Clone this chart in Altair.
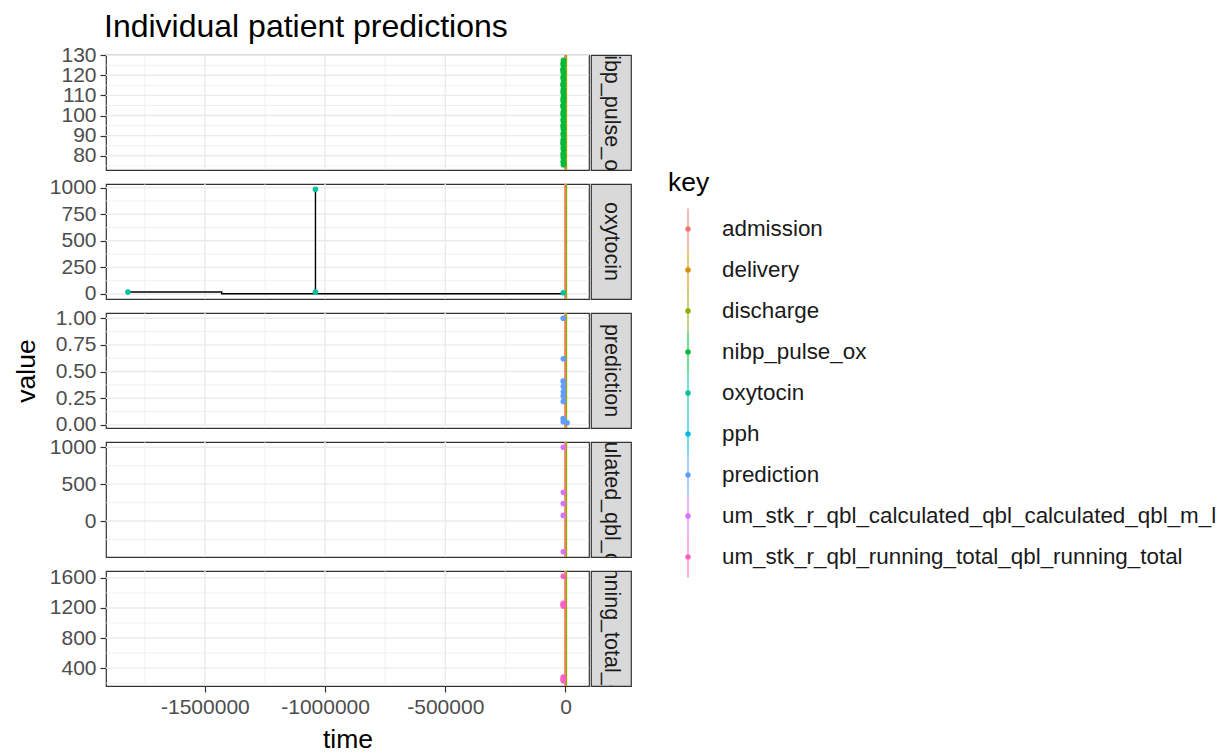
import altair as alt
import pandas as pd

FONT = "Liberation Sans"

# Series keys and their hue palette
keys = [
    "admission",
    "delivery",
    "discharge",
    "nibp_pulse_ox",
    "oxytocin",
    "pph",
    "prediction",
    "um_stk_r_qbl_calculated_qbl_calculated_qbl_m_l",
    "um_stk_r_qbl_running_total_qbl_running_total",
]
palette = ["#F8766D", "#D39200", "#93AA00", "#00BA38", "#00C19F",
           "#00B9E3", "#619CFF", "#DB72FB", "#FF61C3"]

# Event markers (vertical lines)
event_keys = ["delivery", "admission", "discharge"]
event_times = [-800, -2500, 4500]

# nibp_pulse_ox readings
nibp_time = [-8200, -9600, -8800, -10400, -9100, -8600, -9900, -8400, -9300, -10100,
             -8700, -9500, -9000, -8300, -9800, -8900, -10200, -9200, -8500, -9700,
             -8800, -9400, -8600, -10000, -9100, -8400, -9600, -8700, -9300, -8900,
             -10300, -9000, -8500, -9700, -8800, -9200, -9500, -8600]
nibp_value = [127.5, 126, 125, 123, 122, 121, 119, 118, 116, 115,
              113, 112, 111, 109, 108, 107, 105, 104, 102, 101,
              100, 98, 97, 95, 94, 93, 91, 90, 88, 87,
              86, 84, 83, 81, 80, 79, 77, 75.5]

# oxytocin doses and the dosing path
oxy_time = [-1820000, -1040000, -1040000, -9000]
oxy_value = [18, 985, 18, 12]
oxy_path_time = [-1820000, -1430000, -1430000, -1040000, -1040000, -1040000, -9000]
oxy_path_value = [18, 18, 2, 2, 985, 2, 2]

# model predictions
pred_time = [-9200, -8800, -9500, -9000, -8700, -9300, -8900, -9600, -9100, 6500]
pred_value = [1.0, 0.62, 0.41, 0.36, 0.31, 0.27, 0.22, 0.06, 0.03, 0.02]

# calculated QBL
calc_time = [-9000, -8800, -9200, -9100, -8900]
calc_value = [1000, 389, 237, 76, -416]

# running total QBL
total_time = [-9100, -8900, -9300, -8700, -9000, -9200, -8800, -9400, -9000]
total_value = [1622, 1262, 1248, 1236, 1225, 282, 262, 248, 232]

# axis breaks
x_major = [-1500000, -1000000, -500000, 0]
x_minor = [-1750000, -1250000, -750000, -250000]

panels = [
    dict(key="nibp_pulse_ox", time=nibp_time, value=nibp_value,
         major=[80, 90, 100, 110, 120, 130], minor=[75, 85, 95, 105, 115, 125], fmt="d"),
    dict(key="oxytocin", time=oxy_time, value=oxy_value,
         major=[0, 250, 500, 750, 1000], minor=[125, 375, 625, 875], fmt="d"),
    dict(key="prediction", time=pred_time, value=pred_value,
         major=[0, 0.25, 0.5, 0.75, 1.0], minor=[0.125, 0.375, 0.625, 0.875], fmt=".2f"),
    dict(key="um_stk_r_qbl_calculated_qbl_calculated_qbl_m_l", time=calc_time, value=calc_value,
         major=[0, 500, 1000], minor=[-250, 250, 750], fmt="d"),
    dict(key="um_stk_r_qbl_running_total_qbl_running_total", time=total_time, value=total_value,
         major=[400, 800, 1200, 1600], minor=[200, 600, 1000, 1400], fmt="d"),
]


def expanded(lo, hi, mult=0.05):
    pad = (hi - lo) * mult
    return [lo - pad, hi + pad]


all_times = (nibp_time + oxy_time + oxy_path_time + pred_time + calc_time
             + total_time + event_times)
x_domain = expanded(min(all_times), max(all_times))

PANEL_W, PANEL_H = 483, 115
STRIP_W = 40
GRID = "#EBEBEB"
TICK_FS = 21
LEGEND_FS = 22.4
STRIP_FS = 21.5
AXIS_TITLE_FS = 26.5

color_enc = alt.Color("key:N", scale=alt.Scale(domain=keys, range=palette), legend=None)

cells = []
n = len(panels)
for i, p in enumerate(panels):
    vals = list(p["value"])
    if p["key"] == "oxytocin":
        vals += oxy_path_value
    ys = alt.Scale(domain=expanded(min(vals), max(vals)), nice=False, zero=False)
    xs = alt.Scale(domain=x_domain, nice=False, zero=False)

    y_axis_kw = dict(values=p["major"], grid=False, domain=False, format=p["fmt"],
                     tickColor="#333333", tickSize=6, tickWidth=1.2,
                     labelColor="#4D4D4D", labelFont=FONT, labelFontSize=TICK_FS,
                     labelPadding=4, labelOverlap=False, labelBound=False)
    if i == n // 2:
        y_axis_kw.update(title="value", titleFont=FONT, titleFontSize=AXIS_TITLE_FS,
                         titleFontWeight="normal", titleColor="black",
                         titleAngle=-90, titleX=-80, titleY=PANEL_H / 2,
                         titleAlign="center", titleBaseline="middle")
    else:
        y_axis_kw.update(title=None)
    y_axis = alt.Axis(**y_axis_kw)

    if i == n - 1:
        x_axis = alt.Axis(values=x_major, grid=False, domain=False,
                          labelExpr="datum.value + ''", labelOverlap=False,
                          tickColor="#333333", tickSize=6, tickWidth=1.2,
                          labelColor="#4D4D4D", labelFont=FONT, labelFontSize=TICK_FS,
                          labelPadding=4, title="time", titleFont=FONT,
                          titleFontSize=AXIS_TITLE_FS, titleFontWeight="normal",
                          titleColor="black", titleY=61,
                          titleBaseline="alphabetic")
    else:
        x_axis = None

    X = alt.X("time:Q", scale=xs, axis=x_axis)
    Y = alt.Y("value:Q", scale=ys, axis=y_axis)

    hgrid = pd.DataFrame({"value": p["major"] + p["minor"],
                          "w": [1.4] * len(p["major"]) + [0.7] * len(p["minor"])})
    vgrid = pd.DataFrame({"time": x_major + x_minor,
                          "w": [1.4] * len(x_major) + [0.7] * len(x_minor)})

    layers = [
        alt.Chart(hgrid).mark_rule(color=GRID).encode(
            y=Y, strokeWidth=alt.StrokeWidth("w:Q", scale=None)),
        alt.Chart(vgrid).mark_rule(color=GRID).encode(
            x=X, strokeWidth=alt.StrokeWidth("w:Q", scale=None)),
        alt.Chart(pd.DataFrame({"time": event_times, "key": event_keys,
                                "seq": list(range(len(event_times)))}))
        .mark_rule(strokeWidth=1.2).encode(x=X, color=color_enc, order="seq:Q"),
    ]
    if p["key"] == "oxytocin":
        path = pd.DataFrame({"time": oxy_path_time, "value": oxy_path_value,
                             "seq": list(range(len(oxy_path_time)))})
        layers.append(alt.Chart(path).mark_line(color="black", strokeWidth=1.4)
                      .encode(x=X, y=Y, order="seq:Q"))
    pts = pd.DataFrame({"time": p["time"], "value": p["value"], "key": p["key"]})
    layers.append(alt.Chart(pts).mark_circle(size=32, opacity=1)
                  .encode(x=X, y=Y, color=color_enc))

    panel = alt.layer(*layers).properties(width=PANEL_W, height=PANEL_H)

    strip = (alt.Chart(pd.DataFrame({"label": [p["key"]]}))
             .mark_text(angle=90, clip=True, font=FONT, fontSize=STRIP_FS, color="#1A1A1A",
                        align="center", baseline="middle")
             .encode(text="label:N", x=alt.value(STRIP_W / 2), y=alt.value(PANEL_H / 2))
             .properties(width=STRIP_W, height=PANEL_H,
                         view=alt.ViewBackground(fill="#D9D9D9", stroke="#333333",
                                                 strokeWidth=1.2)))
    cells += [panel, strip]

grid = alt.concat(*cells, columns=2, spacing={"row": 14, "column": 2},
                  bounds="flush").properties(
    title=alt.TitleParams("Individual patient predictions", anchor="start",
                          frame="group", font=FONT, fontSize=32, dx=-2,
                          fontWeight="normal", color="black", offset=0))

# Legend: key glyphs (vertical line + point) and labels
LEG_W, LEG_H = 560, 560
leg_df = pd.DataFrame({"key": keys})
leg_y = alt.Y("key:N", scale=alt.Scale(type="point", domain=keys, range=[174, 502], padding=0),
              axis=None)
leg_lines = alt.Chart(leg_df).mark_tick(orient="vertical", size=41, thickness=1.5).encode(
    x=alt.value(45), y=leg_y, color=color_enc)
leg_pts = alt.Chart(leg_df).mark_circle(size=30, opacity=1).encode(
    x=alt.value(45), y=leg_y, color=color_enc)
leg_text = alt.Chart(leg_df).mark_text(align="left", baseline="middle", font=FONT,
                                       fontSize=LEGEND_FS, color="#1A1A1A").encode(
    x=alt.value(79), y=leg_y, text="key:N")
leg_title = alt.Chart(pd.DataFrame({"t": ["key"]})).mark_text(
    align="left", baseline="middle", font=FONT, fontSize=AXIS_TITLE_FS, color="black").encode(
    x=alt.value(25), y=alt.value(128), text="t:N")
legend = alt.layer(leg_lines, leg_pts, leg_text, leg_title).properties(
    width=LEG_W, height=LEG_H, view=alt.ViewBackground(stroke="transparent"))

chart = (
    alt.hconcat(grid, legend, spacing=10)
    .properties(padding={"left": 12, "top": 10, "right": 0, "bottom": 0})
    .configure(font=FONT, background="white")
    .configure_view(stroke="#333333", strokeWidth=1.2)
)

chart.save("out.html", embed_options={"renderer": "svg", "actions": False})
